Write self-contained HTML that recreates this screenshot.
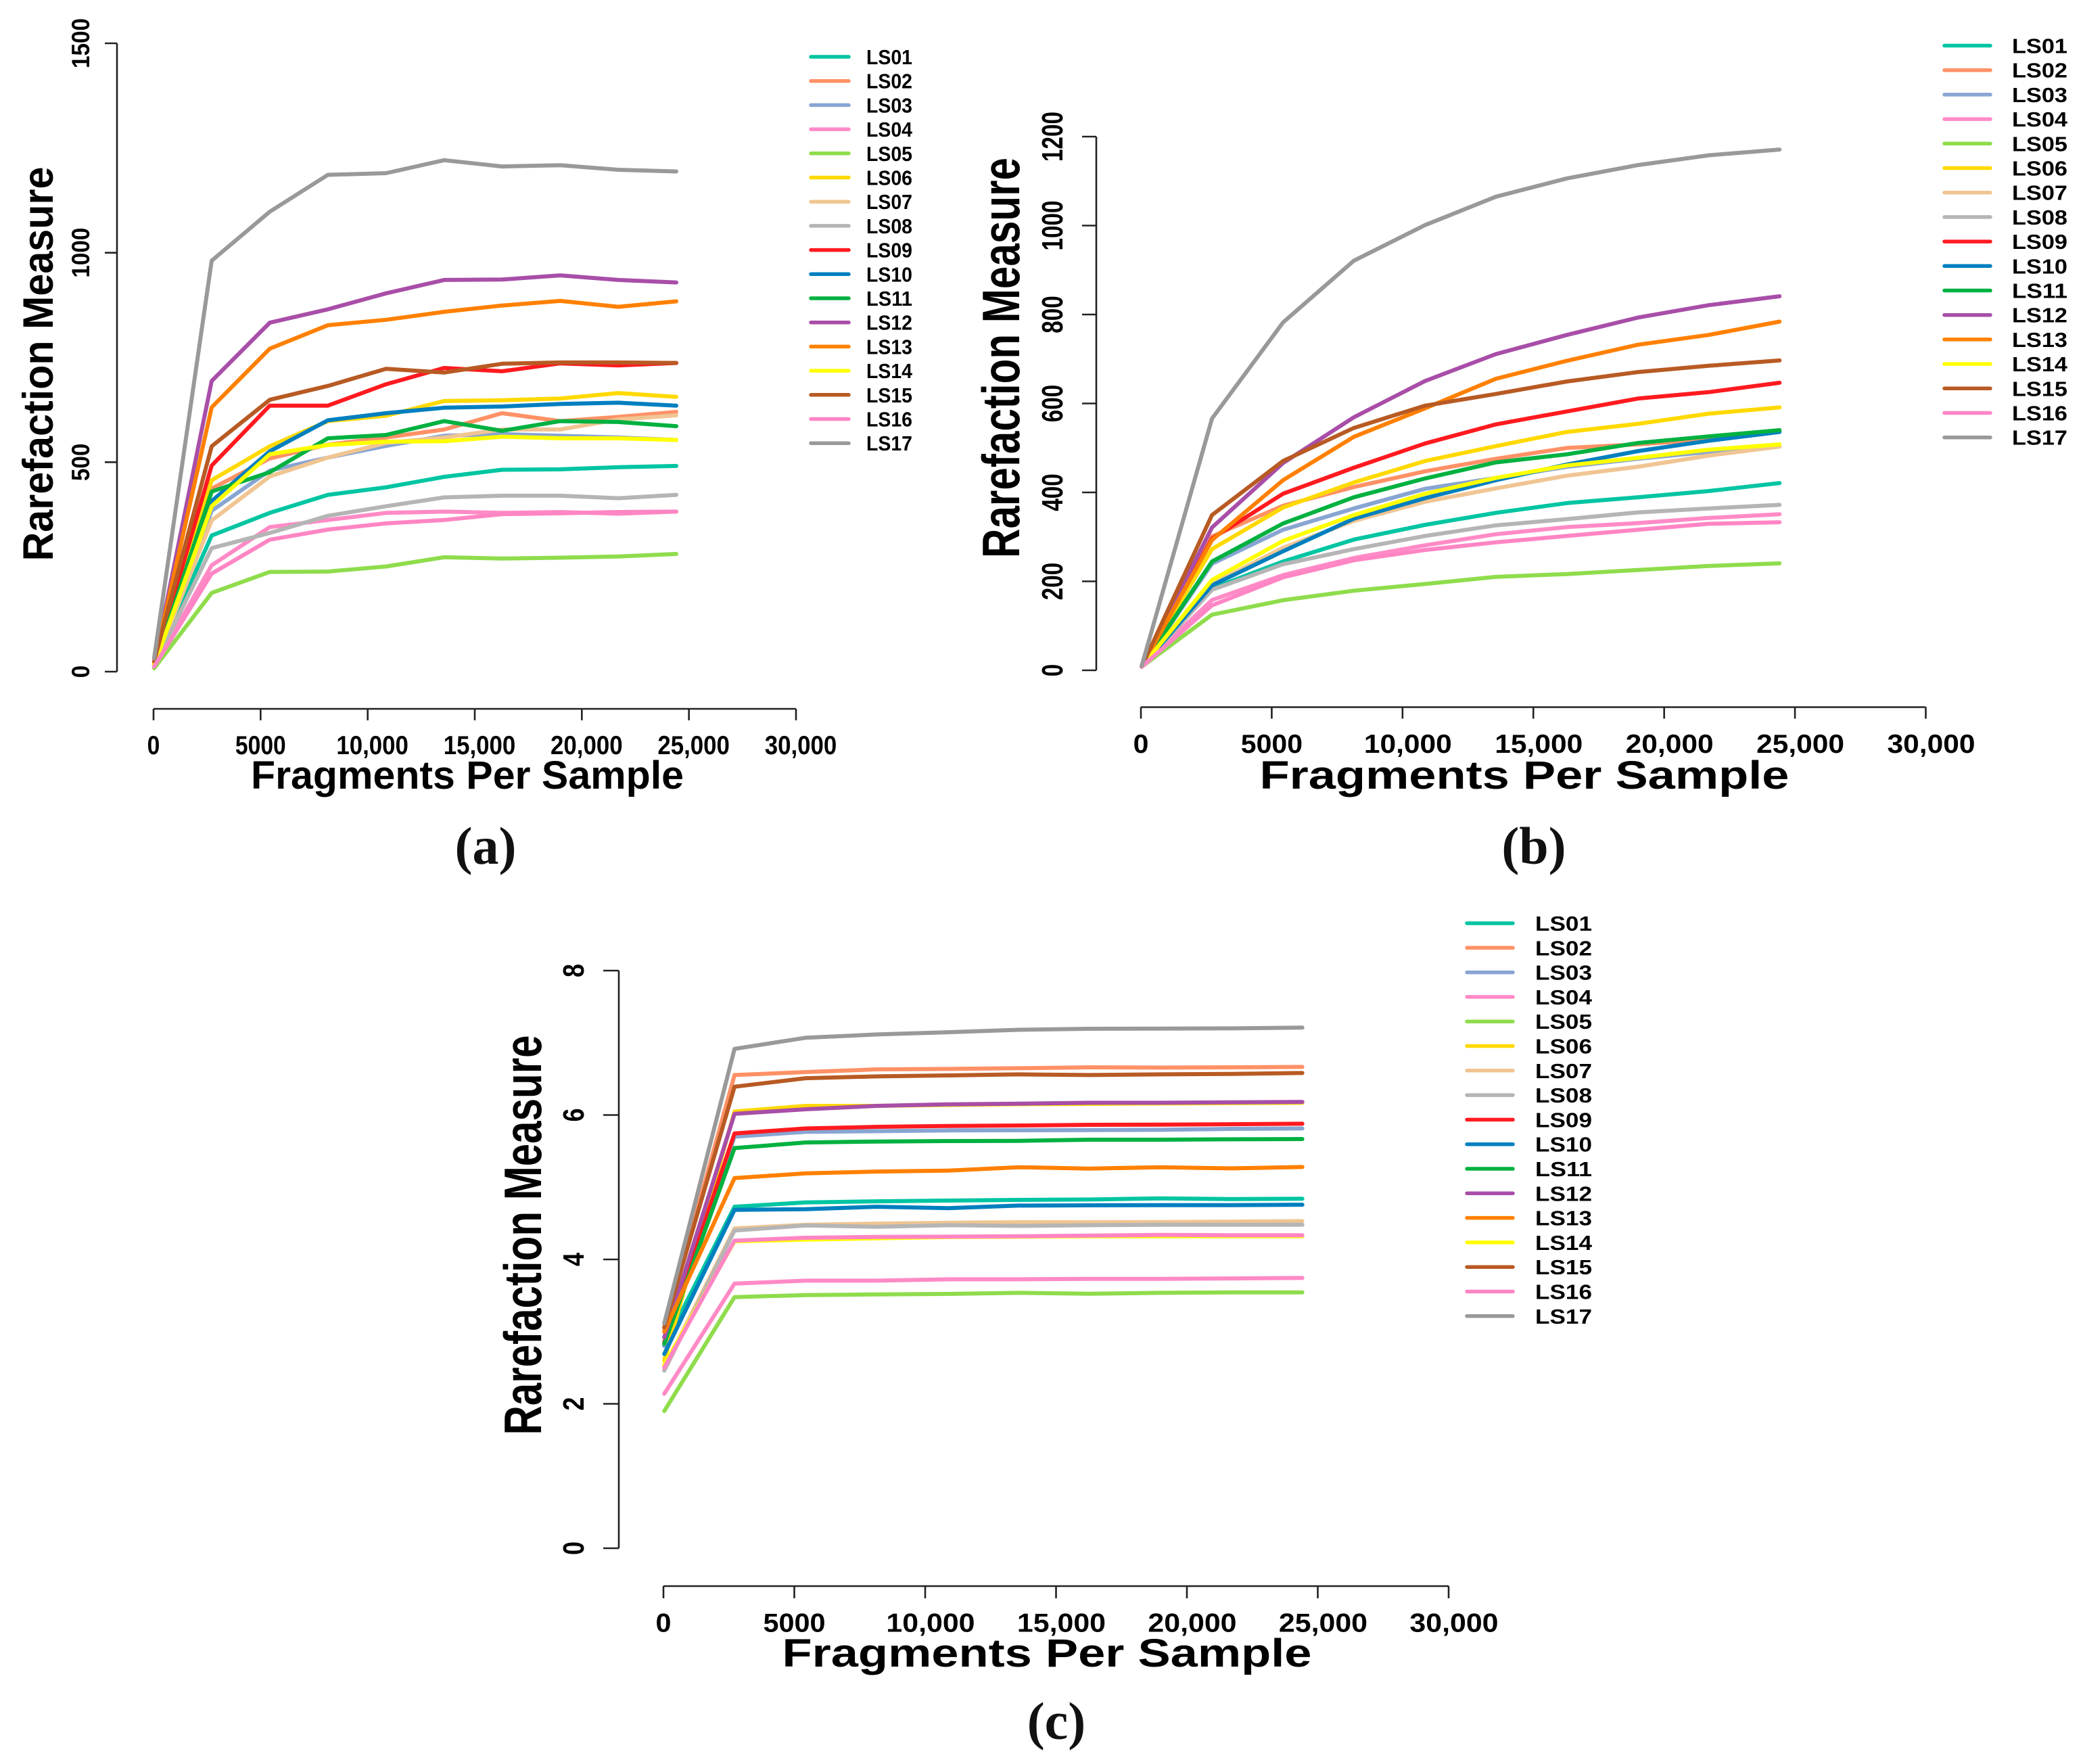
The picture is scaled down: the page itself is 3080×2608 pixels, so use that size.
<!DOCTYPE html>
<html lang="en">
<head>
<meta charset="utf-8">
<title>Rarefaction curves</title>
<style>
html,body{margin:0;padding:0;background:#fff;}
svg{display:block;}
text{font-family:"Liberation Sans",sans-serif;font-weight:700;fill:#000;}
.cap{font-family:"Liberation Serif",serif;font-weight:700;fill:#111;}
</style>
</head>
<body>
<svg id="figure" xmlns="http://www.w3.org/2000/svg" width="3080" height="2608" viewBox="0 0 3080 2608">
<rect width="3080" height="2608" fill="#fff"></rect>
</svg>
<script>
const sampleNames = ['LS01','LS02','LS03','LS04','LS05','LS06','LS07','LS08','LS09','LS10','LS11','LS12','LS13','LS14','LS15','LS16','LS17'];
const sampleColors = ['#00C5A2','#FF9166','#88A5D2','#FF8AC6','#8FDC4C','#FFD900','#F0C592','#B5B5B5','#FF1A1F','#007FBF','#00B140','#A84EA8','#FF8000','#FFFF00','#B85A23','#FF85C4','#999999'];
const fragmentCounts = [30,2716,5430,8140,10860,13570,16280,18990,21700,24410];
const xTickValues = [0,5000,10000,15000,20000,25000,30000];
const xTickLabels = ['0','5000','10,000','15,000','20,000','25,000','30,000'];
const yTicksA = [0,500,1000,1500];
const yTicksB = [0,200,400,600,800,1000,1200];
const yTicksC = [0,2,4,6,8];

const valuesA = [
 [15,325,379,422,440,465,482,483,488,491],
 [15,437,509,542,559,578,617,598,608,620],
 [15,384,480,511,539,563,567,563,559,553],
 [12,254,345,362,379,382,379,381,377,382],
 [8,188,238,239,251,273,270,272,275,281],
 [15,457,538,598,611,646,648,652,665,656],
 [15,361,466,511,546,559,578,578,602,612],
 [15,295,331,372,395,416,420,420,414,422],
 [18,492,635,635,686,725,717,736,731,737],
 [15,407,526,600,617,630,633,639,642,635],
 [15,430,476,557,565,598,575,598,596,586],
 [18,694,833,865,903,935,936,946,935,929],
 [20,631,771,827,840,859,874,885,871,884],
 [15,395,519,541,549,550,561,557,557,553],
 [25,538,649,682,723,714,735,738,738,737],
 [12,234,315,339,354,362,376,378,381,382],
 [32,981,1098,1186,1190,1221,1206,1209,1198,1194]
];
const valuesB = [
 [8,184,244.5,294,327,354,376,389,403,421],
 [8,301,370,412,447.5,475.6,500,508,519,540],
 [8,239.5,316,364,408,432.5,457.6,475.6,491,504],
 [8,158,214,252.5,281,306,322,331,342.5,351],
 [8,125,157.5,179,194,210,216.5,225.5,234.5,240.5],
 [8,272.6,366,422.4,470.6,504,536,554,577,591],
 [8,194,275.6,336,379,409,437.5,457.6,482.7,503],
 [8,181,238.5,272.6,302,326,340,355,364,372],
 [8,296,397,455.5,510,553,582,611,625.4,646.5],
 [8,191,267.6,341,387,427.4,462.6,492.7,516,536],
 [8,244.5,330,389,431.4,467.6,485.7,511,526,540],
 [8,321,466,569,650.5,711,754,793,821,841],
 [8,293,427.4,525,589,655.5,696,732,754,784],
 [8,203,291,349,397,432.5,460.6,477.7,496,508],
 [8,349,470.6,545,595,621.4,649.5,670.6,684.7,696.7],
 [8,146,209,247.5,270.6,287.7,302,316,329.4,333],
 [10,566,782,921,1001,1065,1106,1136,1158,1171]
];
const valuesC = [
 [2.80,4.73,4.79,4.805,4.815,4.824,4.83,4.846,4.836,4.84],
 [3.04,6.554,6.595,6.632,6.638,6.648,6.66,6.657,6.66,6.666],
 [2.80,5.70,5.767,5.776,5.786,5.789,5.792,5.795,5.808,5.814],
 [2.14,3.665,3.706,3.706,3.725,3.725,3.731,3.731,3.737,3.743],
 [1.90,3.478,3.506,3.515,3.522,3.537,3.525,3.537,3.543,3.543],
 [2.60,6.048,6.126,6.126,6.14,6.15,6.155,6.16,6.165,6.17],
 [2.50,4.43,4.48,4.496,4.508,4.515,4.515,4.518,4.524,4.53],
 [2.46,4.40,4.47,4.452,4.474,4.465,4.474,4.48,4.48,4.48],
 [2.85,5.745,5.814,5.836,5.848,5.855,5.864,5.867,5.873,5.879],
 [2.69,4.687,4.696,4.73,4.71,4.746,4.749,4.752,4.752,4.758],
 [2.83,5.542,5.62,5.633,5.639,5.642,5.658,5.658,5.664,5.667],
 [2.92,6.017,6.08,6.126,6.148,6.157,6.17,6.17,6.176,6.182],
 [3.00,5.127,5.192,5.217,5.23,5.277,5.258,5.277,5.261,5.28],
 [2.54,4.25,4.274,4.293,4.31,4.315,4.32,4.32,4.32,4.32],
 [3.06,6.392,6.51,6.535,6.548,6.563,6.554,6.563,6.57,6.582],
 [2.50,4.26,4.30,4.312,4.315,4.32,4.33,4.34,4.334,4.334],
 [3.115,6.916,7.07,7.116,7.147,7.18,7.194,7.197,7.20,7.21]
];

const NS = 'http://www.w3.org/2000/svg';
const figure = document.getElementById('figure');

function make(tag, parent, attrs, content) {
  const el = document.createElementNS(NS, tag);
  for (const k in attrs) el.setAttribute(k, attrs[k]);
  if (content !== undefined) el.textContent = content;
  parent.appendChild(el);
  return el;
}

function drawPanel(id, caption, yTicks, values, g) {
  const xScale = v => g.x0 + (v / 30000) * (g.x1 - g.x0);
  const yMax = yTicks[yTicks.length - 1];
  const yScale = v => g.y0 - (v / yMax) * (g.y0 - g.yTop);

  const panel = make('g', figure, {});
  
  

  // y axis
  const yAxis = make('g', panel, {stroke:'#222','stroke-width':2.6,fill:'none'});
  
  
  make('line', yAxis, {x1:g.yAxisX, x2:g.yAxisX, y1:yScale(0), y2:yScale(yMax)});
  yTicks.forEach(t => {
    make('line', yAxis, {x1:g.yAxisX - g.yTickLen, x2:g.yAxisX, y1:yScale(t), y2:yScale(t)});
    const label = String(t);
    const tl = make('text', panel, {
      x:g.yLabelX, y:yScale(t), 'text-anchor':'middle', 'font-size':g.yLabelSize,
      textLength:g.yLabelDigit * label.length, lengthAdjust:'spacingAndGlyphs',
      transform:'rotate(-90 ' + g.yLabelX + ' ' + yScale(t) + ')'
    }, label);
    
    
  });

  // x axis
  const xAxis = make('g', panel, {stroke:'#222','stroke-width':2.6,fill:'none'});
  
  
  make('line', xAxis, {x1:xScale(0), x2:xScale(30000), y1:g.xAxisY, y2:g.xAxisY});
  xTickValues.forEach((t, i) => {
    make('line', xAxis, {x1:xScale(t), x2:xScale(t), y1:g.xAxisY, y2:g.xAxisY + g.xTickLen});
    const label = xTickLabels[i];
    const commas = label.split(',').length - 1;
    const digits = label.length - commas;
    const tl = make('text', panel, {
      x:xScale(t) + (commas ? g.commaShift : 0), y:g.xLabelY, 'text-anchor':'middle', 'font-size':39,
      textLength:g.xLabelDigit * (digits + 0.7 * commas), lengthAdjust:'spacingAndGlyphs'
    }, label);
    
    
  });

  // axis titles
  const xTitle = make('text', panel, {
    x:g.xTitleX, y:g.xTitleY, 'text-anchor':'middle', 'font-size':58,
    textLength:g.xTitleW, lengthAdjust:'spacingAndGlyphs'
  }, 'Fragments Per Sample');
  
  
  const yTitle = make('text', panel, {
    x:g.yTitleX, y:g.yTitleY, 'text-anchor':'middle', 'font-size':g.yTitleSize,
    textLength:g.yTitleW, lengthAdjust:'spacingAndGlyphs',
    transform:'rotate(-90 ' + g.yTitleX + ' ' + g.yTitleY + ')'
  }, 'Rarefaction Measure');
  
  

  // series
  values.forEach((vals, s) => {
    const pts = vals.map((v, i) => xScale(fragmentCounts[i]).toFixed(1) + ',' + yScale(v).toFixed(1)).join(' ');
    const line = make('polyline', panel, {
      points:pts, fill:'none', stroke:sampleColors[s], 'stroke-width':6,
      'stroke-linejoin':'round', 'stroke-linecap':'round'
    });
    
    
  });

  // legend
  const legend = make('g', panel, {});
  
  
  sampleNames.forEach((name, s) => {
    const y = g.legendY + s * g.legendStep;
    const entry = make('g', legend, {});
    
    
    make('line', entry, {x1:g.legendX0, x2:g.legendX1, y1:y, y2:y, stroke:sampleColors[s], 'stroke-width':5.5, 'stroke-linecap':'round'});
    make('text', entry, {x:g.legendTextX, y:y + 11, 'font-size':31, textLength:g.legendTextW, lengthAdjust:'spacingAndGlyphs'}, name);
  });

  // caption
  const cap = make('text', panel, {x:g.capX, y:g.capY, 'text-anchor':'middle', 'font-size':78, class:'cap'}, caption);
  
  
}

drawPanel('a', '(a)', yTicksA, valuesA, {
  x0:227, x1:1177, y0:993, yTop:64, yAxisX:173, yTickLen:18, xAxisY:1048, xTickLen:17,
  yLabelX:132, yLabelSize:37, yLabelDigit:18.5, xLabelY:1115, xLabelDigit:18.7, commaShift:7,
  xTitleX:691, xTitleY:1166, xTitleW:640, yTitleX:78, yTitleY:538, yTitleW:583, yTitleSize:63,
  legendX0:1199, legendX1:1255, legendY:84, legendStep:35.7, legendTextX:1281, legendTextW:68,
  capX:718, capY:1277
});
drawPanel('b', '(b)', yTicksB, valuesB, {
  x0:1687, x1:2847.5, y0:991, yTop:202, yAxisX:1621, yTickLen:21, xAxisY:1045.5, xTickLen:17,
  yLabelX:1571, yLabelSize:44, yLabelDigit:18.5, xLabelY:1113, xLabelDigit:22.8, commaShift:8,
  xTitleX:2254, xTitleY:1166, xTitleW:783, yTitleX:1507, yTitleY:529, yTitleW:592, yTitleSize:78,
  legendX0:2875, legendX1:2943, legendY:67.5, legendStep:36.2, legendTextX:2975, legendTextW:82,
  capX:2268, capY:1277
});
drawPanel('c', '(c)', yTicksC, valuesC, {
  x0:981, x1:2142, y0:2289, yTop:1435, yAxisX:915, yTickLen:23, xAxisY:2345, xTickLen:18,
  yLabelX:863, yLabelSize:44, yLabelDigit:20, xLabelY:2412.5, xLabelDigit:23, commaShift:8,
  xTitleX:1548, xTitleY:2464, xTitleW:783, yTitleX:800, yTitleY:1826, yTitleW:591, yTitleSize:78,
  legendX0:2169, legendX1:2237, legendY:1365, legendStep:36.3, legendTextX:2270, legendTextW:84,
  capX:1562, capY:2571
});
</script>
</body>
</html>
